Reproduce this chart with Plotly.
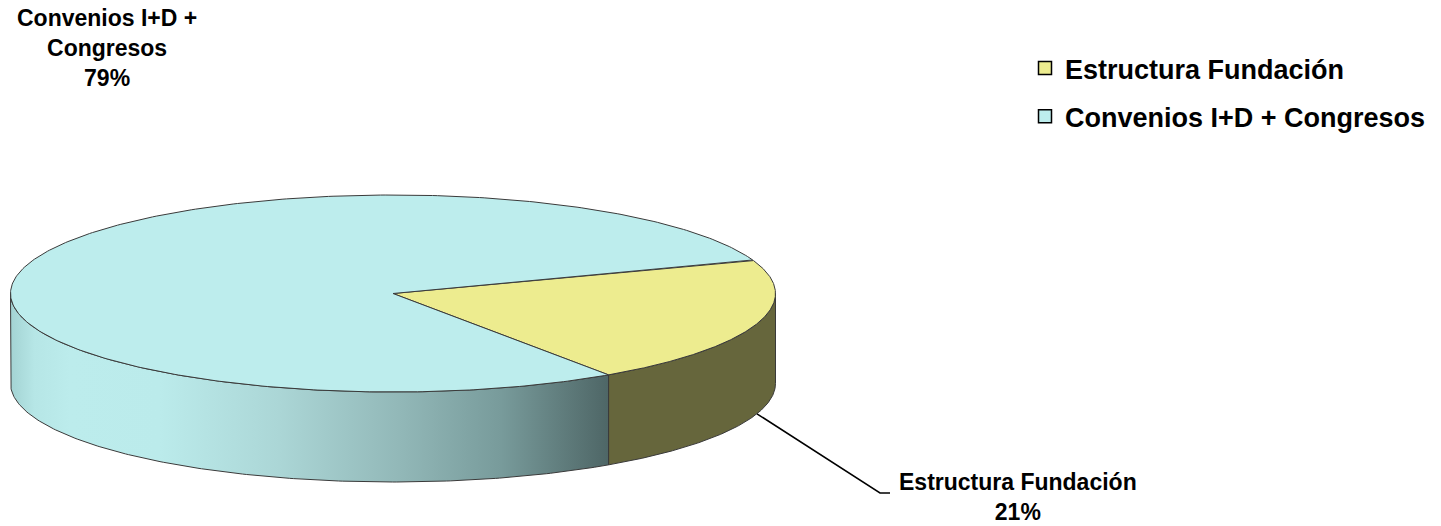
import textwrap
import numpy as np
import plotly.graph_objects as go

# ---------------- data ----------------
CATEGORIES = ["Estructura Fundación", "Convenios I+D + Congresos"]
VALUES = [21, 79]

# ---------------- style ----------------
TOP_COLORS = ["#EDEC8F", "#BDEDED"]
SIDE_COLORS = ["#66663C", None]
SIDE_GRADIENTS = [None, [[0.0, "#A3D3D3"], [0.04, "#B6E6E6"], [0.1, "#BCECEC"],
                         [0.25, "#BBEBEB"], [0.45, "#ABD6D6"], [0.65, "#92B8B8"],
                         [0.82, "#789B9B"], [1.0, "#4E6666"]]]
EDGE = "#3A3A3A"
FONT = "Liberation Sans, Arial, sans-serif"
W, H = 1441, 526
CX, CY, RX, RY, DEPTH = 393.0, 293.5, 382.5, 98.5, 90.0
START_ANGLE = 19.9          # degrees, math orientation, slices go clockwise
LABEL_POS = [(1018, 497), (107, 48)]
LABEL_WRAP = [24, 16]
LEADER_END = [(880, 493), None]
LEADER_TAIL = 10

total = float(sum(VALUES))


def pt(t_deg, dz=0.0):
    t = np.radians(t_deg)
    return CX + RX * np.cos(t), CY - RY * np.sin(t) + dz


fig = go.Figure()

# slice angle ranges (clockwise => decreasing angle)
ranges = []
a = START_ANGLE
for v in VALUES:
    span = 360.0 * v / total
    ranges.append((a, a - span))
    a -= span

# ---- side walls (visible part is lower half: angles in [-180, 0] mod 360)
for i, (a0, a1) in enumerate(ranges):
    for k in range(-2, 3):
        lo = max(a1, -180 + 360 * k)
        hi = min(a0, 0 + 360 * k)
        if hi - lo <= 1e-6:
            continue
        ts = np.linspace(hi, lo, 200)
        xt, yt = pt(ts)
        xb, yb = pt(ts[::-1], DEPTH)
        xs = np.concatenate([xt, xb, xt[:1]])
        ys = np.concatenate([yt, yb, yt[:1]])
        kw = dict(x=xs, y=ys, mode="lines", fill="toself",
                  line=dict(color=EDGE, width=1), hoverinfo="skip",
                  showlegend=False)
        if SIDE_GRADIENTS[i] is not None:
            kw["fillgradient"] = dict(type="horizontal", colorscale=SIDE_GRADIENTS[i])
        else:
            kw["fillcolor"] = SIDE_COLORS[i]
        fig.add_trace(go.Scatter(**kw))

# ---- top faces
for i, (a0, a1) in enumerate(ranges):
    ts = np.linspace(a0, a1, 400)
    xa, ya = pt(ts)
    xs = np.concatenate([[CX], xa, [CX]])
    ys = np.concatenate([[CY], ya, [CY]])
    fig.add_trace(go.Scatter(x=xs, y=ys, mode="lines", fill="toself",
                             fillcolor=TOP_COLORS[i],
                             line=dict(color=EDGE, width=1),
                             hoverinfo="skip", showlegend=False))

# ---- data labels and leader lines
for i, (a0, a1) in enumerate(ranges):
    pct = round(100 * VALUES[i] / total)
    txt = "<br>".join(textwrap.wrap(CATEGORIES[i], LABEL_WRAP[i])) + f"<br>{pct}%"
    lx, ly = LABEL_POS[i]
    fig.add_annotation(x=lx, y=ly, xref="x", yref="y", text=txt, showarrow=False,
                       xanchor="center", yanchor="middle", align="center",
                       font=dict(family=FONT, size=23, color="black", weight="bold"))
    if LEADER_END[i] is not None:
        mid = (a0 + a1) / 2.0
        sx, sy = pt(mid, DEPTH)
        ex, ey = LEADER_END[i]
        fig.add_trace(go.Scatter(x=[sx, ex, ex + LEADER_TAIL], y=[sy, ey, ey],
                                 mode="lines", line=dict(color="black", width=1.5),
                                 hoverinfo="skip", showlegend=False))

# ---- legend entries
for i, cat in enumerate(CATEGORIES):
    fig.add_trace(go.Scatter(x=[None], y=[None], mode="markers", name=cat,
                             legendgroup=f"g{i}",
                             marker=dict(symbol="square", size=13, color=TOP_COLORS[i],
                                         line=dict(color="black", width=1.5))))

fig.update_layout(
    width=W, height=H,
    margin=dict(l=0, r=0, t=0, b=0),
    paper_bgcolor="white", plot_bgcolor="white",
    xaxis=dict(range=[0, W], visible=False, fixedrange=True),
    yaxis=dict(range=[H, 0], visible=False, fixedrange=True),
    showlegend=True,
    legend=dict(x=1025 / W, y=1 - 44 / H, xanchor="left", yanchor="top",
                traceorder="grouped", tracegroupgap=10,
                font=dict(family=FONT, size=27, color="black", weight="bold"),
                bgcolor="rgba(0,0,0,0)"),
)

fig.write_html("out.html",
               config={"displayModeBar": False, "staticPlot": True},
               post_script="document.body.style.margin='0px';"
                           "document.body.style.overflow='hidden';")
